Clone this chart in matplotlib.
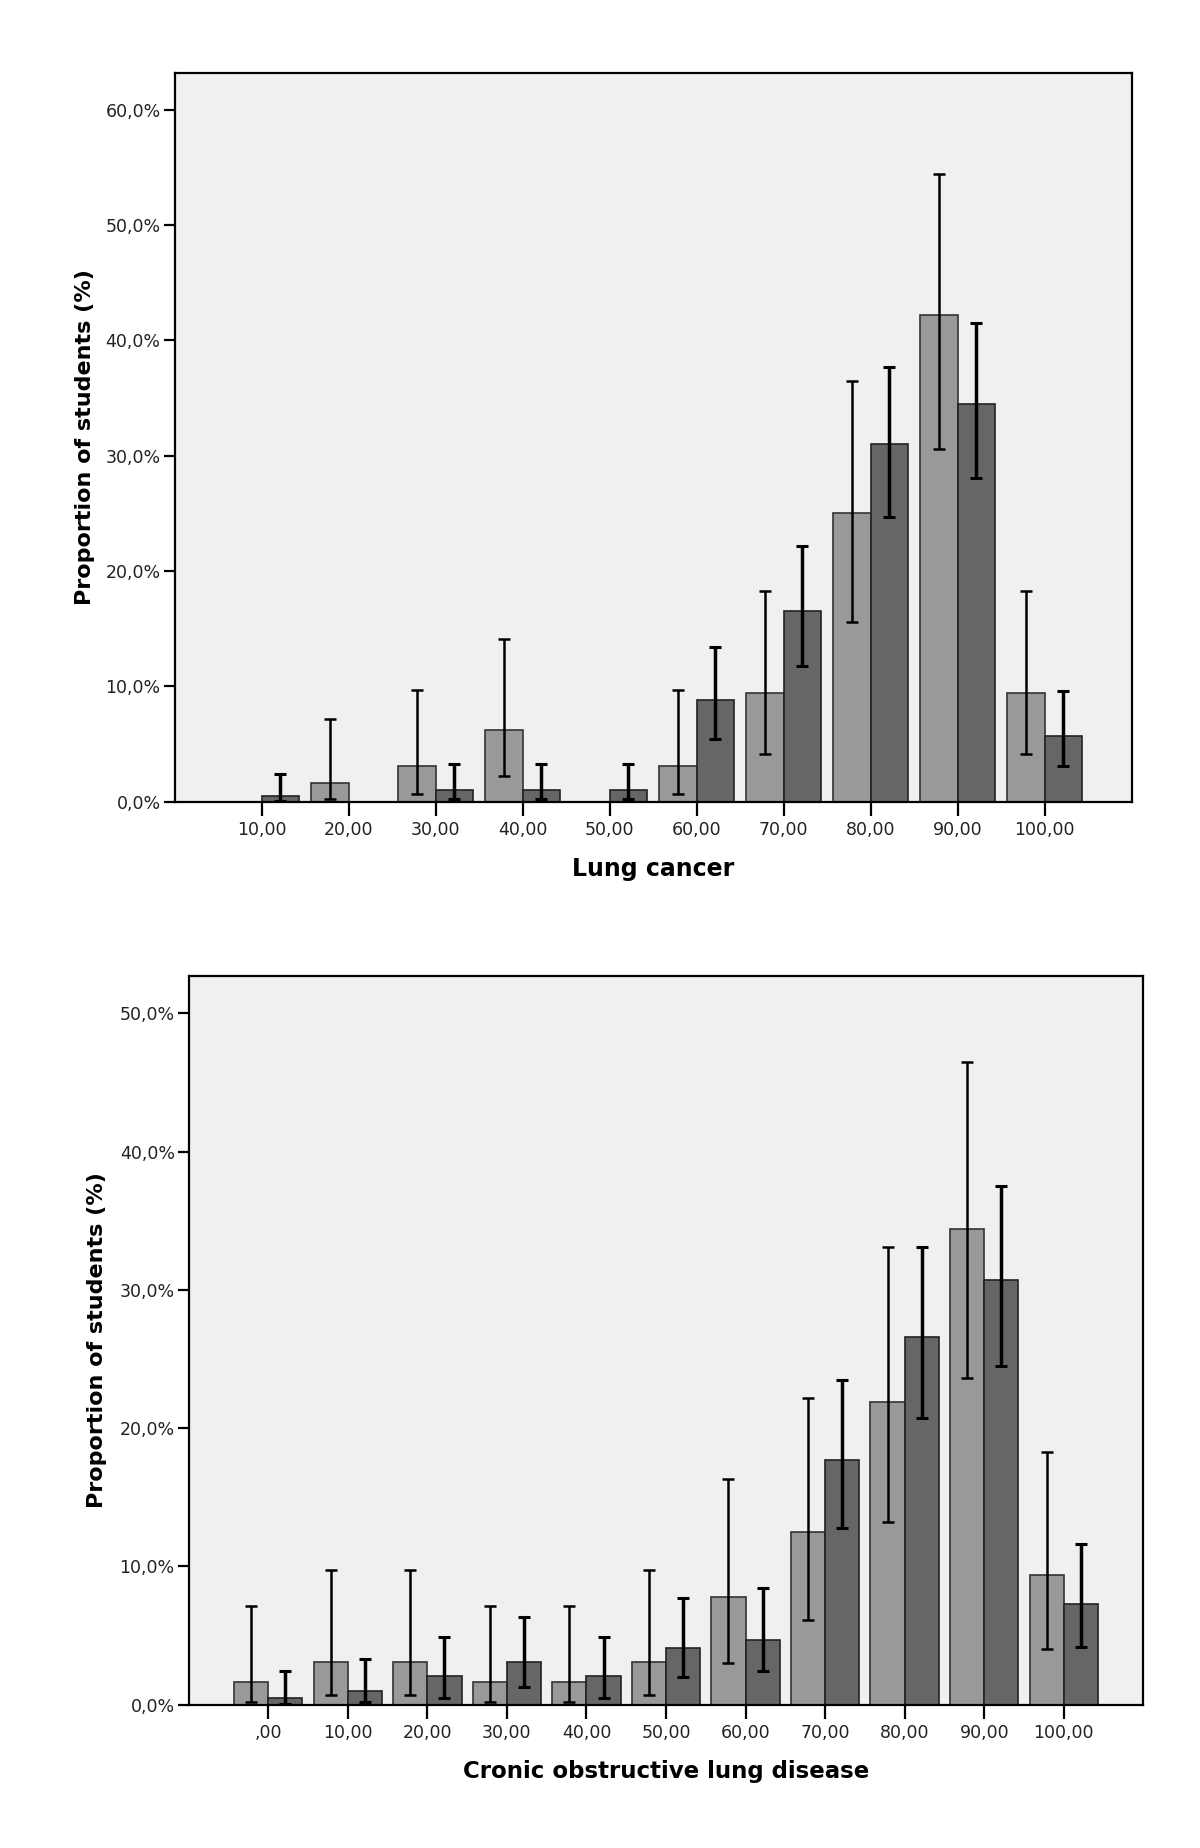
import numpy as np
import matplotlib
matplotlib.use("Agg")
import matplotlib.pyplot as plt

nan = np.nan

# ---- Data: Lung cancer ----
top_cats = ['10,00', '20,00', '30,00', '40,00', '50,00', '60,00', '70,00', '80,00', '90,00', '100,00']
top_light = [0, 1.6, 3.1, 6.25, 0, 3.1, 9.4, 25.0, 42.2, 9.4]
top_light_lo = [nan, 0.2, 0.7, 2.2, nan, 0.7, 4.1, 15.6, 30.6, 4.1]
top_light_hi = [nan, 7.2, 9.7, 14.1, nan, 9.7, 18.3, 36.5, 54.4, 18.3]
top_dark = [0.5, 0, 1.0, 1.0, 1.0, 8.8, 16.5, 31.0, 34.5, 5.7]
top_dark_lo = [0.05, nan, 0.2, 0.2, 0.2, 5.4, 11.8, 24.7, 28.1, 3.1]
top_dark_hi = [2.4, nan, 3.3, 3.3, 3.3, 13.4, 22.2, 37.7, 41.5, 9.6]
top_yticks = [0, 10, 20, 30, 40, 50, 60]

# ---- Data: Cronic obstructive lung disease ----
bot_cats = [',00', '10,00', '20,00', '30,00', '40,00', '50,00', '60,00', '70,00', '80,00', '90,00', '100,00']
bot_light = [1.6, 3.1, 3.1, 1.6, 1.6, 3.1, 7.8, 12.5, 21.9, 34.4, 9.4]
bot_light_lo = [0.2, 0.7, 0.7, 0.2, 0.2, 0.7, 3.0, 6.1, 13.2, 23.6, 4.0]
bot_light_hi = [7.1, 9.7, 9.7, 7.1, 7.1, 9.7, 16.3, 22.2, 33.1, 46.5, 18.3]
bot_dark = [0.5, 1.0, 2.1, 3.1, 2.1, 4.1, 4.7, 17.7, 26.6, 30.7, 7.3]
bot_dark_lo = [0.05, 0.2, 0.5, 1.3, 0.5, 2.0, 2.4, 12.8, 20.7, 24.5, 4.2]
bot_dark_hi = [2.4, 3.3, 4.9, 6.3, 4.9, 7.7, 8.4, 23.5, 33.1, 37.5, 11.6]
bot_yticks = [0, 10, 20, 30, 40, 50]

LIGHT = '#999999'
DARK = '#666666'
BG = '#f0f0f0'
W = 0.43

plt.rcParams['font.family'] = ['DejaVu Sans']

fig = plt.figure(figsize=(12, 18.48), dpi=100)
FW, FH = 1200, 1848


def make_axes(l, t, r, b):
    return fig.add_axes([l / FW, 1 - b / FH, (r - l) / FW, (b - t) / FH])


def draw(ax, cats, light, llo, lhi, dark, dlo, dhi, yticks, ymax, xlabel, xlab_size, xlab_y, ylab_x):
    n = len(cats)
    x = np.arange(1, n + 1)
    ax.set_facecolor(BG)
    ax.bar(x - W / 2, light, width=W, color=LIGHT, edgecolor='#333333', linewidth=1.2, zorder=2)
    ax.bar(x + W / 2, dark, width=W, color=DARK, edgecolor='#222222', linewidth=1.2, zorder=2)
    light = np.array(light, float); dark = np.array(dark, float)
    llo = np.array(llo, float); lhi = np.array(lhi, float)
    dlo = np.array(dlo, float); dhi = np.array(dhi, float)
    ax.errorbar(x - W / 2, light, yerr=[light - llo, lhi - light], fmt='none',
                ecolor='black', elinewidth=1.8, capsize=4.5, capthick=1.8, zorder=3)
    ax.errorbar(x + W / 2, dark, yerr=[dark - dlo, dhi - dark], fmt='none',
                ecolor='black', elinewidth=2.5, capsize=4.5, capthick=2.2, zorder=3)
    ax.set_xlim(0, n + 1)
    ax.set_ylim(0, ymax)
    ax.set_xticks(x)
    ax.set_xticklabels(cats, fontsize=12.5, color='#222222')
    ax.set_yticks(yticks)
    ax.set_yticklabels([('%.1f%%' % v).replace('.', ',') for v in yticks], fontsize=12.5, color='#222222')
    ax.tick_params(axis='x', length=10, width=1.6, pad=4, direction='out')
    ax.tick_params(axis='y', length=8, width=1.6, pad=2, direction='out')
    for s in ax.spines.values():
        s.set_linewidth(1.6)
        s.set_color('black')
    ax.set_xlabel(xlabel, fontsize=xlab_size, fontweight='bold', va='center')
    ax.xaxis.set_label_coords(0.5, xlab_y)
    ax.set_ylabel('Proportion of students (%)', fontsize=16, fontweight='bold', va='center')
    ax.yaxis.set_label_coords(ylab_x, 0.5)


ax1 = make_axes(174.5, 73, 1131.6, 801.6)
draw(ax1, top_cats, top_light, top_light_lo, top_light_hi, top_dark, top_dark_lo, top_dark_hi,
     top_yticks, 63.2, 'Lung cancer', 17, -0.093, -0.0935)

ax2 = make_axes(188.6, 976, 1143.4, 1704.6)
draw(ax2, bot_cats, bot_light, bot_light_lo, bot_light_hi, bot_dark, bot_dark_lo, bot_dark_hi,
     bot_yticks, 52.7, 'Cronic obstructive lung disease', 16.5, -0.092, -0.096)

fig.savefig('out.png', dpi=100, facecolor='white')
